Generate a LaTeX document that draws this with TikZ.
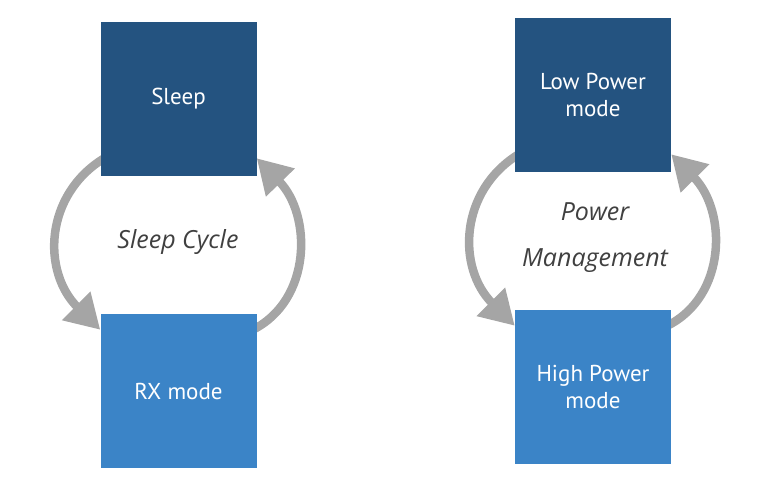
\documentclass[tikz,border=0pt]{standalone}
\usepackage{fontspec}
\setmainfont{PT Sans}
\newfontfamily\itfont{Open Sans}
\usetikzlibrary{arrows.meta,calc}
\definecolor{darkbox}{HTML}{245380}
\definecolor{lightbox}{HTML}{3B84C7}
\definecolor{arcgray}{HTML}{A5A5A5}
\definecolor{labelgray}{HTML}{404040}
\tikzset{
  statebox/.style={draw=none, minimum width=156pt, minimum height=154pt, inner sep=0pt,
    text=white, align=center, font=\fontsize{23pt}{27pt}\selectfont},
  darkstate/.style={statebox, fill=darkbox},
  lightstate/.style={statebox, fill=lightbox},
  cyclearc/.style={draw=arcgray, line width=8.5pt, -{Triangle[length=34pt,width=38pt]}},
  cyclelabel/.style={text=labelgray, align=center, font=\itfont\itshape\fontsize{25pt}{46pt}\selectfont}
}
\begin{document}
\begin{tikzpicture}[x=1pt,y=-1pt]
\useasboundingbox (0,0) rectangle (778,482);
% left cycle
\node[darkstate] (sleep) at (178.5,99) {\raisebox{-2pt}{Sleep}};
\node[lightstate] (rx) at (178.5,391) {\raisebox{-2pt}{RX mode}};
\node[cyclelabel] (sc) at (178,242) {Sleep Cycle};
% right cycle
\node[darkstate] (low) at (593,95) {Low Power\\mode};
\node[lightstate] (high) at (593,387) {High Power\\mode};
\node[cyclelabel] (pm) at (595,238) {Power\\Management};
% arcs (drawn, then boxes redrawn on top)
\draw[cyclearc] ($(sleep.south west)+(4,-18)$) .. controls (44,195) and (42,272) .. ($(rx.north west)+(0,16)$);
\draw[cyclearc] ($(rx.north east)+(-4,16)$) .. controls (312,300) and (312,215) .. ($(sleep.south east)+(0,-18)$);
\draw[cyclearc] ($(low.south west)+(4,-18)$) .. controls (459,191) and (457,268) .. ($(high.north west)+(0,16)$);
\draw[cyclearc] ($(high.north east)+(-4,16)$) .. controls (727,296) and (727,211) .. ($(low.south east)+(0,-18)$);
\node[darkstate] at (sleep) {\raisebox{-2pt}{Sleep}};
\node[lightstate] at (rx) {\raisebox{-2pt}{RX mode}};
\node[darkstate] at (low) {Low Power\\mode};
\node[lightstate] at (high) {High Power\\mode};
\end{tikzpicture}
\end{document}
